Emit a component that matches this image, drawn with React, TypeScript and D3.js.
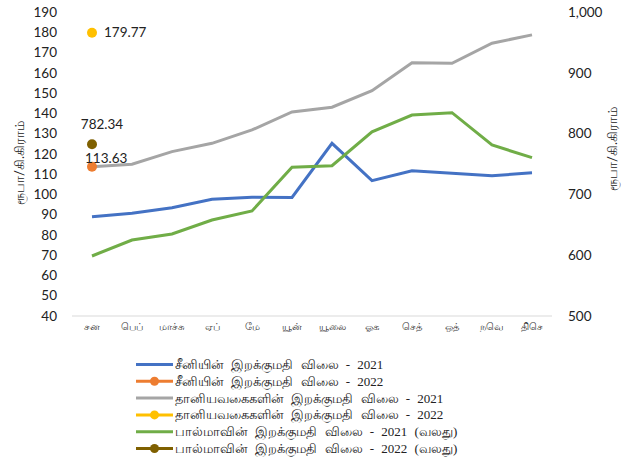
import React from 'react';
import * as d3 from 'd3';

// months (Tamil short names)
const months = ['சன', 'பெப்', 'மாச்சு', 'ஏப்', 'மே', 'யூன்', 'யூலை', 'ஓக', 'செத்', 'ஒத்', 'நவெ', 'திசெ'];

// left axis series
const sugar2021 = [89.0, 90.7, 93.4, 97.6, 98.6, 98.5, 125.2, 106.8, 111.7, 110.4, 109.2, 110.7];
const sugar2022 = [113.63];
const grain2021 = [113.6, 114.9, 121.1, 125.2, 131.8, 140.7, 143.0, 151.2, 165.0, 164.7, 174.6, 178.7];
const grain2022 = [179.77];

// right axis series
const milk2021 = [598.7, 625, 634.9, 657.9, 672.7, 744.6, 747.2, 803, 830.6, 834.4, 781.3, 760.4];
const milk2022 = [782.34];

const leftTicks = [40, 50, 60, 70, 80, 90, 100, 110, 120, 130, 140, 150, 160, 170, 180, 190];
const rightTicks = [500, 600, 700, 800, 900, 1000];

const legendItems = [
  { label: 'சீனியின் இறக்குமதி விலை - 2021', color: '#4472C4', dot: false },
  { label: 'சீனியின் இறக்குமதி விலை - 2022', color: '#ED7D31', dot: true },
  { label: 'தானியவகைகளின் இறக்குமதி விலை - 2021', color: '#A5A5A5', dot: false },
  { label: 'தானியவகைகளின் இறக்குமதி விலை - 2022', color: '#FFC000', dot: true },
  { label: 'பால்மாவின் இறக்குமதி விலை - 2021 (வலது)', color: '#70AD47', dot: false },
  { label: 'பால்மாவின் இறக்குமதி விலை - 2022 (வலது)', color: '#7F6000', dot: true },
];

const W = 637;
const H = 461;
const numFont = 'Lato, "Open Sans", sans-serif';

export default function App() {
  // x positions: 12 equal bands
  const x = d3.scaleBand<string>().domain(months).range([72, 552]);
  const cx = (i: number) => (x(months[i]) as number) + x.bandwidth() / 2;

  const yL = d3.scaleLinear().domain([40, 190]).range([316, 12]);
  const yR = d3.scaleLinear().domain([500, 1000]).range([316, 12]);

  const lineL = d3.line<number>().x((_, i) => cx(i)).y((d) => yL(d));
  const lineR = d3.line<number>().x((_, i) => cx(i)).y((d) => yR(d));

  return (
    <svg width={W} height={H} style={{ position: 'absolute', left: 0, top: 0, background: '#fff' }}>
      {/* left axis labels */}
      {leftTicks.map((t) => (
        <text key={t} x={57} y={yL(t)} dy="0.35em" textAnchor="end" fontSize={13.5} fontFamily={numFont} fill="#222">
          {t}
        </text>
      ))}
      {/* right axis labels */}
      {rightTicks.map((t) => (
        <text key={t} x={568} y={yR(t)} dy="0.35em" textAnchor="start" fontSize={13.5} fontFamily={numFont} fill="#222">
          {d3.format(',')(t)}
        </text>
      ))}
      {/* axis titles */}
      <text transform="translate(24,163) rotate(-90)" textAnchor="middle" fontSize={13} fontFamily={numFont} fill="#222">
        ரூபா/கி.கிராம்
      </text>
      <text transform="translate(617,149) rotate(-90)" textAnchor="middle" fontSize={13} fontFamily={numFont} fill="#222">
        ரூபா/கி.கிராம்
      </text>

      {/* x axis */}
      <line x1={72} x2={552} y1={316} y2={316} stroke="#d9d9d9" strokeWidth={1} />
      {months.map((m, i) => (
        <text key={m} x={cx(i)} y={330} textAnchor="middle" fontSize={10} fontFamily="serif" fill="#333">
          {m}
        </text>
      ))}

      {/* lines */}
      <path d={lineL(grain2021) as string} fill="none" stroke="#A5A5A5" strokeWidth={3} />
      <path d={lineL(sugar2021) as string} fill="none" stroke="#4472C4" strokeWidth={3} />
      <path d={lineR(milk2021) as string} fill="none" stroke="#70AD47" strokeWidth={3} />

      {/* 2022 points */}
      {sugar2022.map((v, i) => (
        <g key={'s' + i}>
          <circle cx={cx(i)} cy={yL(v)} r={5} fill="#ED7D31" />
          <text x={cx(i) - 7} y={yL(v) - 4} fontSize={13.5} fontFamily={numFont} fill="#222">
            {v.toFixed(2)}
          </text>
        </g>
      ))}
      {grain2022.map((v, i) => (
        <g key={'g' + i}>
          <circle cx={cx(i)} cy={yL(v)} r={5} fill="#FFC000" />
          <text x={cx(i) + 12} y={yL(v)} dy="0.35em" fontSize={13.5} fontFamily={numFont} fill="#222">
            {v.toFixed(2)}
          </text>
        </g>
      ))}
      {milk2022.map((v, i) => (
        <g key={'m' + i}>
          <circle cx={cx(i)} cy={yR(v)} r={5} fill="#7F6000" />
          <text x={cx(i) + 10} y={yR(v) - 20} dy="0.35em" textAnchor="middle" fontSize={13.5} fontFamily={numFont} fill="#222">
            {v.toFixed(2)}
          </text>
        </g>
      ))}

      {/* legend */}
      {legendItems.map((item, i) => {
        const ly = 364.5 + i * 16.8;
        return (
          <g key={item.label}>
            <line x1={136} x2={173} y1={ly} y2={ly} stroke={item.color} strokeWidth={3} />
            {item.dot && <circle cx={154.5} cy={ly} r={4.5} fill={item.color} />}
            <text x={175} y={ly} dy="0.35em" fontSize={13} fontFamily='"Liberation Serif", serif' fill="#222" style={{ wordSpacing: '4px' }}>
              {item.label}
            </text>
          </g>
        );
      })}
    </svg>
  );
}
